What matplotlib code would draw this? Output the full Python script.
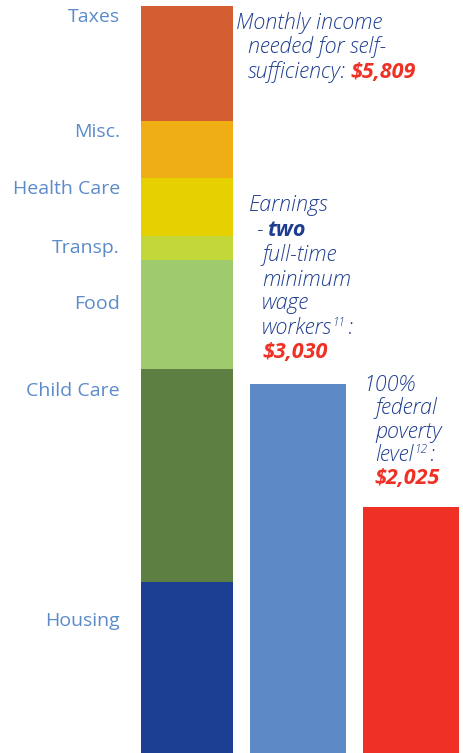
import matplotlib
matplotlib.use("Agg")
import matplotlib.pyplot as plt

# budget components (monthly, $), bottom to top
categories = ["Housing", "Child Care", "Food", "Transp.", "Health Care", "Misc.", "Taxes"]
costs = [1405, 1750, 896, 197, 477, 468, 945]
seg_colors = ["#1c3f94", "#5d8042", "#9fca6d", "#c2d83a", "#e6d000", "#eeae14", "#d35e31"]

self_sufficiency = 5809
min_wage_earnings = 3030
poverty_level = 2025

W, H = 463, 753
fig = plt.figure(figsize=(W / 100, H / 100), dpi=100)
ax = fig.add_axes([0, 0, 1, 1])
ax.set_xlim(0, W)
ax.set_ylim(0, 6187)
ax.axis("off")

# stacked bar
bottom = 0
for val, col in zip(costs, seg_colors):
    ax.bar(187, val, width=92, bottom=bottom, color=col)
    bottom += val

ax.bar(298, min_wage_earnings, width=96, color="#5b8ac6")
ax.bar(411, poverty_level, width=96, color="#ee3124")

label_color = "#5b8bc9"
dark = "#1f3e90"
red = "#ee3124"
fam = ["Open Sans", "DejaVu Sans"]
renderer = fig.canvas.get_renderer()

# category labels (image pixel y of label centre)
label_y = [621, 391, 304, 248, 189, 132, 17]
for name, y in zip(categories, label_y):
    fig.text(120, H - y, name, transform=None, ha="right", va="center",
             fontsize=14, color=label_color, family=fam)

FS = 15.5


def put(x, y, s, **kw):
    # y = image pixel y of text centre, drawn on its baseline
    opts = dict(fontsize=FS, color=dark, style="italic", family=fam,
                va="baseline", weight="light")
    opts.update(kw)
    return fig.text(x, H - y - 6, s, transform=None, **opts)


def after(prev, s, dy=0, gap=1, **kw):
    opts = dict(fontsize=FS, color=dark, style="italic", family=fam,
                va="baseline", weight="light")
    opts.update(kw)
    x1 = prev.get_window_extent(renderer).x1
    _, y0 = prev.get_position()
    return fig.text(x1 + gap, y0 + dy, s, transform=None, **opts)


# self-sufficiency annotation
put(236, 23, "Monthly income")
put(248, 47, "needed for self-")
t = put(248, 72, "sufficiency:")
after(t, "$5,809", color=red, weight="bold", gap=4)

# minimum wage annotation
put(249, 205, "Earnings")
t = put(256, 230, "-")
after(t, "two", weight="bold", gap=4)
put(262, 255, "full-time")
put(262, 280, "minimum")
put(262, 303, "wage")
t = put(262, 328, "workers")
t2 = after(t, "11", fontsize=8.5, dy=8)
after(t2, ":", gap=2, dy=-8)
put(262, 352, "$3,030", color=red, weight="bold")

# poverty level annotation
put(363, 385, "100%")
put(375, 408, "federal")
put(375, 432, "poverty")
t = put(375, 455, "level")
t2 = after(t, "12", fontsize=8.5, dy=8)
after(t2, ":", gap=2, dy=-8)
put(374, 478, "$2,025", color=red, weight="bold")

fig.savefig("out.png", dpi=100)
